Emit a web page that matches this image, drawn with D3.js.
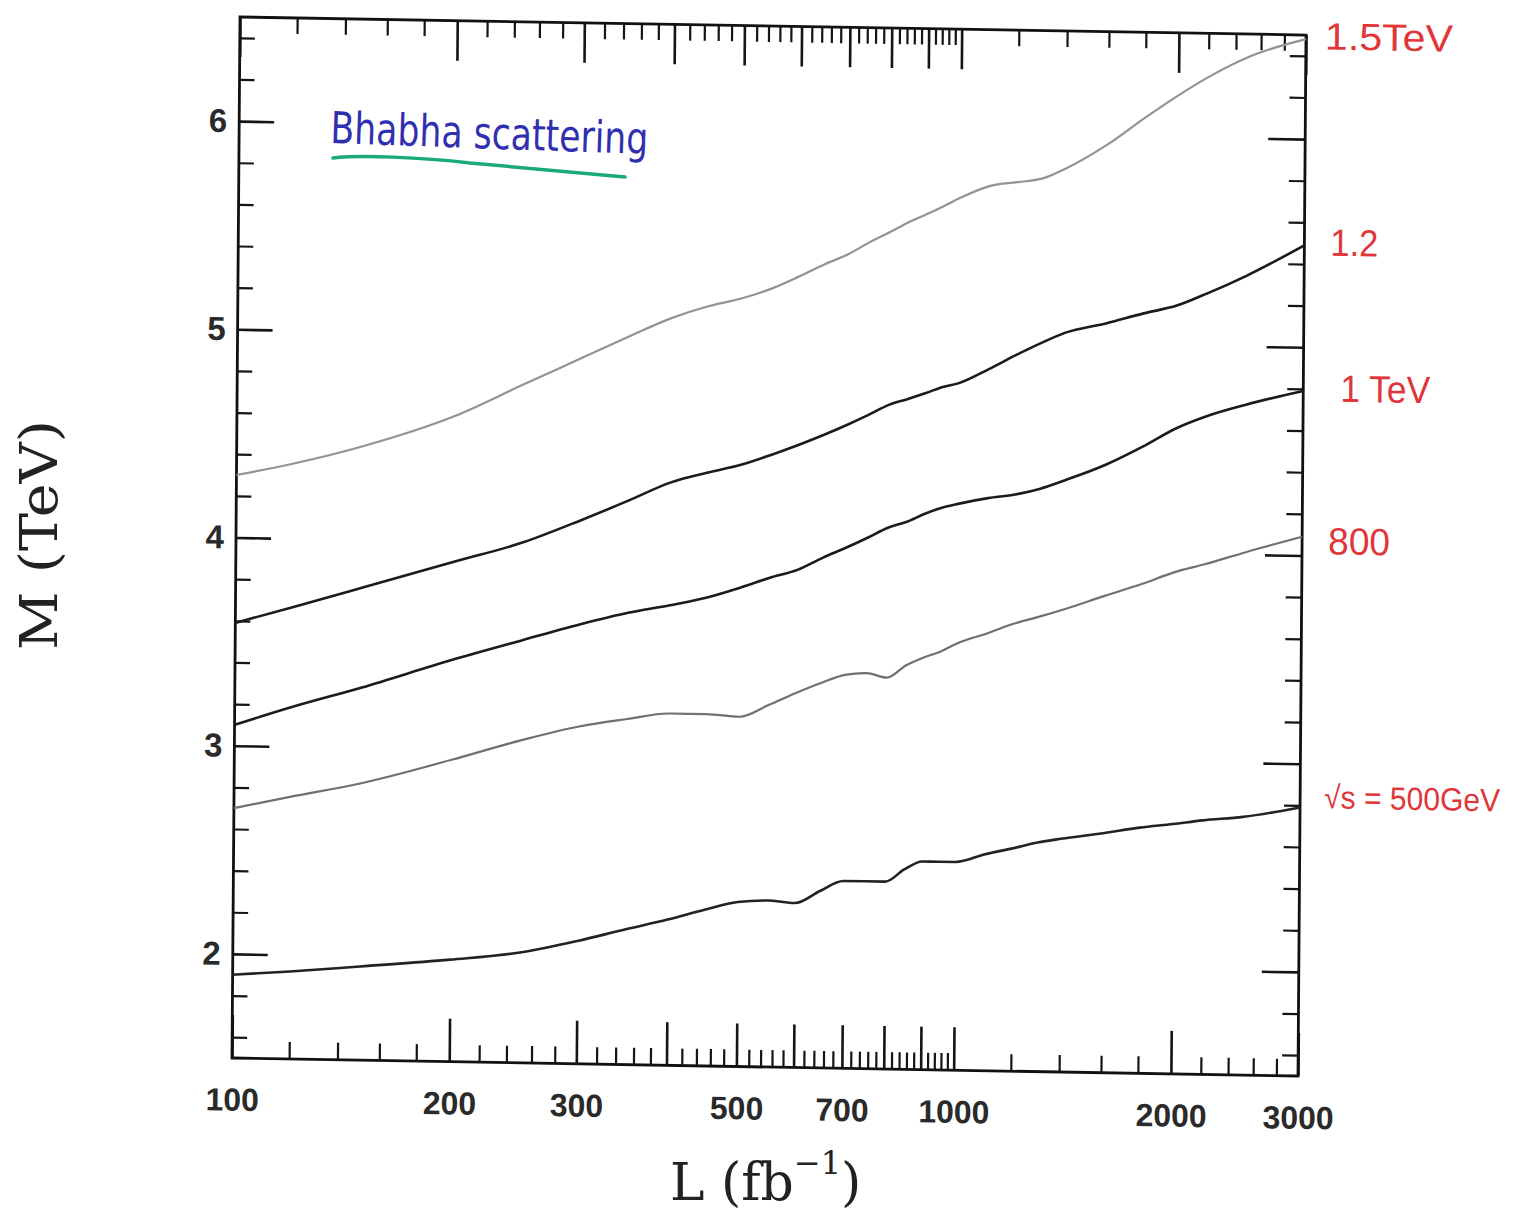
<!DOCTYPE html>
<html><head><meta charset="utf-8">
<script src="https://cdn.jsdelivr.net/npm/d3@7"></script>
<style>body{margin:0;background:#fff} svg{display:block;background:#fff}</style>
</head><body><svg id="c" width="1530" height="1215"></svg>
<script>
// ---- data ----
const luminosity = [100,120,150,200,250,300,350,400,450,500,550,600,650,700,750,800,850,900,950,1000,1100,1200,1300,1400,1600,1800,2000,2200,2500,3000];
const m1500 = [4.30,4.36,4.45,4.60,4.76,4.89,5.00,5.09,5.15,5.19,5.24,5.30,5.36,5.41,5.47,5.52,5.57,5.61,5.65,5.69,5.75,5.77,5.79,5.84,5.96,6.09,6.20,6.29,6.39,6.48];
const m1200 = [3.59,3.67,3.77,3.90,4.00,4.11,4.21,4.30,4.35,4.39,4.44,4.49,4.54,4.59,4.64,4.69,4.72,4.75,4.78,4.80,4.87,4.94,5.00,5.05,5.10,5.15,5.19,5.25,5.34,5.49];
const m1000 = [3.10,3.19,3.29,3.43,3.53,3.61,3.67,3.71,3.75,3.80,3.85,3.89,3.95,4.00,4.05,4.10,4.13,4.17,4.20,4.22,4.25,4.27,4.30,4.34,4.42,4.51,4.60,4.66,4.72,4.79];
const m800  = [2.70,2.76,2.83,2.95,3.05,3.12,3.16,3.19,3.19,3.18,3.24,3.30,3.35,3.39,3.40,3.38,3.44,3.48,3.51,3.55,3.60,3.65,3.685,3.72,3.79,3.85,3.91,3.95,4.01,4.09];
const m500  = [1.90,1.92,1.95,1.99,2.03,2.09,2.15,2.20,2.25,2.29,2.30,2.29,2.35,2.40,2.40,2.40,2.46,2.50,2.50,2.50,2.54,2.57,2.60,2.62,2.65,2.68,2.70,2.72,2.74,2.79];
const seriesLabels = ["1.5TeV","1.2","1 TeV","800","\u221As = 500GeV"];
const xTickLabels = [100,200,300,500,700,1000,2000,3000];
const xMajorTicks = [100,200,300,400,500,600,700,800,900,1000,2000,3000];
const yTickLabels = [2,3,4,5,6];
const titleText = "Bhabha scattering";
const xTitle = "L (fb";
const xTitleSup = "\u22121";
const yTitle = "M (TeV)";

// ---- drawing ----
const svg = d3.select("#c");
const W = 1066, H = 1041;
// scanned page is slightly skewed
const g = svg.append("g").attr("transform","matrix(1,0.0169,-0.0077,1,240,17)");

const x = d3.scaleLog().domain([100,3000]).range([0,W]);
const y = d3.scaleLinear().domain([1.5,6.5]).range([H,0]);

const xMinor = d3.range(120,1000,20).filter(v=>v%100!==0)
  .concat(d3.range(1200,3000,200).filter(v=>v%1000!==0));
const yMinor = d3.range(8,33).filter(i=>i%5!==0).map(i=>i/5);
const yMajor = yTickLabels;

function style(sel, w){
  sel.select(".domain").remove();
  sel.selectAll(".tick line").attr("stroke","#151515").attr("stroke-width",w);
}
// bottom
g.append("g").attr("transform",`translate(0,${H})`)
  .call(d3.axisBottom(x).tickValues(xMajorTicks).tickSize(-43).tickFormat("")).call(s=>style(s,2.6));
g.append("g").attr("transform",`translate(0,${H})`)
  .call(d3.axisBottom(x).tickValues(xMinor).tickSize(-17).tickFormat("")).call(s=>style(s,2.2));
const xl = g.append("g").attr("transform",`translate(0,${H})`)
  .call(d3.axisBottom(x).tickValues(xTickLabels).tickSize(0).tickPadding(30).tickFormat(d3.format("d")));
xl.select(".domain").remove();
xl.selectAll("text").attr("font-family","'Liberation Sans',Arial,sans-serif").attr("font-weight","bold")
  .attr("font-size",32).attr("fill","#2a2a2a");
// top
g.append("g").call(d3.axisTop(x).tickValues(xMajorTicks).tickSize(-40).tickFormat("")).call(s=>style(s,2.6));
g.append("g").call(d3.axisTop(x).tickValues(xMinor).tickSize(-16).tickFormat("")).call(s=>style(s,2.2));
// left
const yl = g.append("g").call(d3.axisLeft(y).tickValues(yMajor).tickSize(-35).tickPadding(12).tickFormat(d3.format("d")));
style(yl,2.6);
yl.selectAll("text").attr("font-family","'Liberation Sans',Arial,sans-serif").attr("font-weight","bold")
  .attr("font-size",33).attr("fill","#2a2a2a");
g.append("g").call(d3.axisLeft(y).tickValues(yMinor).tickSize(-15).tickFormat("")).call(s=>style(s,2.2));
// right
g.append("g").attr("transform",`translate(${W},0)`)
  .call(d3.axisRight(y).tickValues(yMajor).tickSize(-37).tickFormat("")).call(s=>style(s,2.6));
g.append("g").attr("transform",`translate(${W},0)`)
  .call(d3.axisRight(y).tickValues(yMinor).tickSize(-16).tickFormat("")).call(s=>style(s,2.2));

// frame
g.append("rect").attr("x",0).attr("y",0).attr("width",W).attr("height",H)
  .attr("fill","none").attr("stroke","#111").attr("stroke-width",2.8);

// curves
const seriesValues = [m1500,m1200,m1000,m800,m500];
const seriesColors = ["#939393","#1b1b1b","#1b1b1b","#707070","#222"];
const seriesWidths = [2.2,2.6,2.6,2.2,2.6];
const line = d3.line().x(d=>x(d[0])).y(d=>y(d[1])).curve(d3.curveMonotoneX);
seriesValues.forEach((vals,i)=>{
  g.append("path").datum(luminosity.map((l,j)=>[l,vals[j]]))
    .attr("d",line).attr("fill","none").attr("stroke",seriesColors[i])
    .attr("stroke-width",seriesWidths[i]).attr("stroke-linejoin","round");
});

// red hand-written series labels at the curve ends
const labelLayout = [
  {dx:19,dy:0,w:128,fs:38},{dx:26,dy:0,w:48,fs:38},{dx:37,dy:0,w:90,fs:38},{dx:26,dy:7,w:62,fs:38},{dx:24,dy:-8,w:176,fs:32}
];
seriesLabels.forEach((t,i)=>{
  const vals = seriesValues[i];
  g.append("text").attr("x",x(3000)+labelLayout[i].dx).attr("y",y(vals[vals.length-1])+labelLayout[i].dy)
    .attr("dominant-baseline","middle").attr("font-family","'Liberation Sans',Arial,sans-serif")
    .attr("font-size",labelLayout[i].fs).attr("fill","#e0363a")
    .attr("textLength",labelLayout[i].w).attr("lengthAdjust","spacingAndGlyphs").text(t);
});

// title annotation
svg.append("text").attr("transform","translate(330,143) rotate(2)")
  .attr("font-family","'DejaVu Sans',sans-serif").attr("font-size",44).attr("fill","#2f2fb0")
  .attr("textLength",318).attr("lengthAdjust","spacingAndGlyphs").text(titleText);
svg.append("path").attr("d","M333,158 C360,155 420,157 470,163 L625,177")
  .attr("fill","none").attr("stroke","#1aa97c").attr("stroke-width",3.5).attr("stroke-linecap","round");

// axis titles
const xt = svg.append("text").attr("x",670).attr("y",1200)
  .attr("font-family","'DejaVu Serif',serif").attr("font-size",52).attr("fill","#222");
xt.append("tspan").text(xTitle);
xt.append("tspan").attr("dy",-26).attr("font-size",32).text(xTitleSup);
xt.append("tspan").attr("dy",26).text(")");

svg.append("text").attr("transform","translate(57,535) rotate(-90)")
  .attr("text-anchor","middle").attr("font-family","'DejaVu Serif',serif")
  .attr("font-size",52).attr("fill","#222")
  .attr("textLength",230).attr("lengthAdjust","spacingAndGlyphs").text(yTitle);
</script></body></html>
